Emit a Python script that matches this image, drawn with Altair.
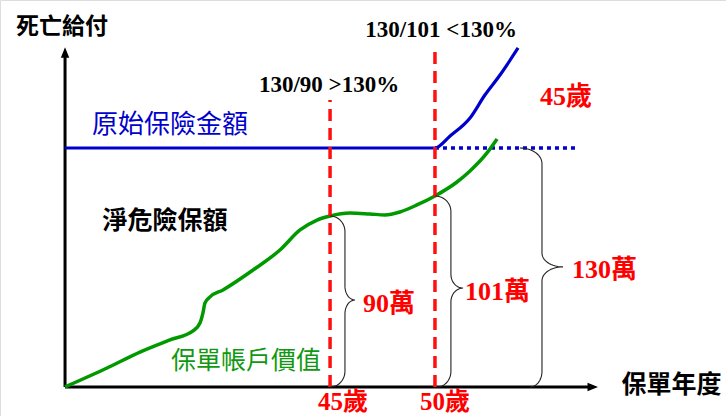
import altair as alt
import pandas as pd
import numpy as np

# ---- scales: x = age (歲), y = amount (萬) ----
X_DOMAIN = [29.3, 63.9]
Y_DOMAIN = [-15.8, 210.5]
ORIGIN_AGE = 32.4
AXIS_TOP = 182.0
AXIS_RIGHT = 57.55

# 保單帳戶價值 (green curve)
green_age = [32.4, 34.4, 35.97, 37.4, 38.5, 38.83, 38.97, 39.07, 39.31, 39.93, 41.36, 42.64,
             43.6, 44.41, 45.03, 45.98, 46.93, 47.65, 48.36, 49.17, 50.03, 51.08, 51.7, 52.51, 52.99]
green_val = [0, 10.3, 19.0, 25.6, 30.5, 34.8, 40.2, 45.7, 49.0, 52.8, 63.6, 74.5,
             85.4, 90.8, 93.0, 94.6, 94.1, 93.6, 95.2, 99.0, 103.9, 111.5, 117.5, 127.3, 134.9]

# 死亡給付 (blue curve)
blue_age = [32.4, 50.03, 50.75, 51.7, 52.41, 53.13, 53.99]
blue_val = [130, 130, 136.5, 146.3, 158.8, 169.7, 184.4]

# 原始保險金額 continuation (dotted)
dotted_age = [50.03, 56.8]
dotted_val = [130, 130]

# check ages (red dashed lines)
check_age = [45.03, 50.03]
check_top = [156.1, 184.4]

# braces
brace_name = ["90萬", "101萬", "130萬"]
brace_x_top = [45.03, 50.03, 54.08]
brace_x_bot = [45.03, 50.13, 54.56]
brace_x_v = [45.74, 50.79, 55.13]
brace_x_tip = [46.22, 51.37, 56.13]
brace_top = [93.0, 103.9, 130.0]
brace_bot = [0, 0, 0]
brace_mid = [47.3, 53.8, 65.3]

W, H = 726, 416
xs = alt.Scale(domain=X_DOMAIN, nice=False, zero=False)
ys = alt.Scale(domain=Y_DOMAIN, nice=False, zero=False)


def X(f, t="Q"):
    return alt.X(f"{f}:{t}", scale=xs, axis=None)


def Y(f, t="Q"):
    return alt.Y(f"{f}:{t}", scale=ys, axis=None)


# axes
axis_df = pd.DataFrame({
    "x": [ORIGIN_AGE, ORIGIN_AGE], "x2": [ORIGIN_AGE, AXIS_RIGHT],
    "y": [0, 0], "y2": [AXIS_TOP, 0],
})
axes = alt.Chart(axis_df).mark_rule(color="black", strokeWidth=3).encode(
    x=X("x"), x2="x2", y=Y("y"), y2="y2")

arrow_up = alt.Chart(pd.DataFrame({"x": [ORIGIN_AGE], "y": [AXIS_TOP]})).mark_point(
    shape="M0,-1L-0.8,1L0.8,1Z", filled=True, color="black", size=110, opacity=1
).encode(x=X("x"), y=Y("y"))
arrow_right = alt.Chart(pd.DataFrame({"x": [AXIS_RIGHT], "y": [0]})).mark_point(
    shape="M1,0L-1,-0.8L-1,0.8Z", filled=True, color="black", size=110, opacity=1
).encode(x=X("x"), y=Y("y"))

green = alt.Chart(pd.DataFrame({"x": green_age, "y": green_val})).mark_line(
    color="#009900", strokeWidth=3.5, interpolate="monotone"
).encode(x=X("x"), y=Y("y"))

blue = alt.Chart(pd.DataFrame({"x": blue_age, "y": blue_val})).mark_line(
    color="#0000cc", strokeWidth=3.2, interpolate="monotone"
).encode(x=X("x"), y=Y("y"))

dotted = alt.Chart(pd.DataFrame({"x": dotted_age, "y": dotted_val})).mark_line(
    color="#0000cc", strokeWidth=3.5, strokeDash=[4, 4]
).encode(x=X("x"), y=Y("y"))

red = alt.Chart(pd.DataFrame({"x": check_age, "y": [0, 0], "y2": check_top})).mark_rule(
    color="#ff1010", strokeWidth=3.5, strokeDash=[12, 7]
).encode(x=X("x"), y=Y("y"), y2="y2")


def brace_points(x_top, x_bot, x_v, x_tip, y_top, y_bot, y_mid, ry=8.5, ry2=7.5, n=14):
    pts = []
    t = np.linspace(np.pi / 2, 0, n)
    pts += list(zip(x_top + (x_v - x_top) * np.cos(t), (y_top - ry) + ry * np.sin(t)))
    t = np.linspace(np.pi, 1.5 * np.pi, n)
    pts += list(zip(x_tip + (x_tip - x_v) * np.cos(t), (y_mid + ry2) + ry2 * np.sin(t)))
    t = np.linspace(0.5 * np.pi, np.pi, n)
    pts += list(zip(x_tip + (x_tip - x_v) * np.cos(t), (y_mid - ry2) + ry2 * np.sin(t)))
    t = np.linspace(0, -0.5 * np.pi, n)
    pts += list(zip(x_bot + (x_v - x_bot) * np.cos(t), (y_bot + ry) + ry * np.sin(t)))
    return pts


rows = []
for k in range(len(brace_name)):
    pts = brace_points(brace_x_top[k], brace_x_bot[k], brace_x_v[k], brace_x_tip[k],
                       brace_top[k], brace_bot[k], brace_mid[k])
    for i, (px, py) in enumerate(pts):
        rows.append({"b": brace_name[k], "i": i, "x": px, "y": py})
braces = alt.Chart(pd.DataFrame(rows)).mark_line(color="#222222", strokeWidth=1.1).encode(
    x=X("x"), y=Y("y"), detail="b:N", order="i:Q")


def label(text, x, y, color, size, font, weight="normal", align="center", baseline="middle"):
    return alt.Chart(pd.DataFrame({"x": [x], "y": [y], "t": [text]})).mark_text(
        color=color, fontSize=size, font=font, fontWeight=weight, align=align, baseline=baseline
    ).encode(x=X("x"), y=Y("y"), text="t:N")


CJK = "Noto Sans CJK TC"
SERIF = "Liberation Serif, Noto Sans CJK TC"
RED = "#ff0000"

texts = [
    label("死亡給付", 32.25, 195.8, "black", 23, CJK, "bold"),
    label("原始保險金額", 37.4, 142.5, "#0000cc", 26, CJK),
    label("淨危險保額", 37.16, 90.3, "black", 25, CJK, "bold"),
    label("保單帳戶價值", 41.02, 14.1, "#109910", 25, CJK),
    label("保單年度", 61.3, 1.1, "black", 25, CJK, "bold"),
    label("130/90 >130%", 44.98, 160.5, "black", 23, SERIF, "bold", baseline="alphabetic"),
    label("130/101 <130%", 50.32, 190.4, "black", 23, SERIF, "bold", baseline="alphabetic"),
    label("45歲", 56.27, 153.4, RED, 26, SERIF, "bold", baseline="alphabetic"),
    label("90萬", 46.6, 40.8, RED, 26, SERIF, "bold", align="left", baseline="alphabetic"),
    label("101萬", 51.46, 47.3, RED, 26, SERIF, "bold", align="left", baseline="alphabetic"),
    label("130萬", 56.56, 59.3, RED, 26, SERIF, "bold", align="left", baseline="alphabetic"),
    label("45歲", 45.65, -12.6, RED, 25, SERIF, "bold", baseline="alphabetic"),
    label("50歲", 50.51, -12.6, RED, 25, SERIF, "bold", baseline="alphabetic"),
]

chart = alt.layer(axes, arrow_up, arrow_right, blue, dotted, green, red, braces, *texts).properties(
    width=W, height=H, padding=0, autosize=alt.AutoSizeParams(type="none")
).configure_view(stroke=None).configure(background="white")

chart.save("out.html", embed_options={"renderer": "svg", "actions": False})
